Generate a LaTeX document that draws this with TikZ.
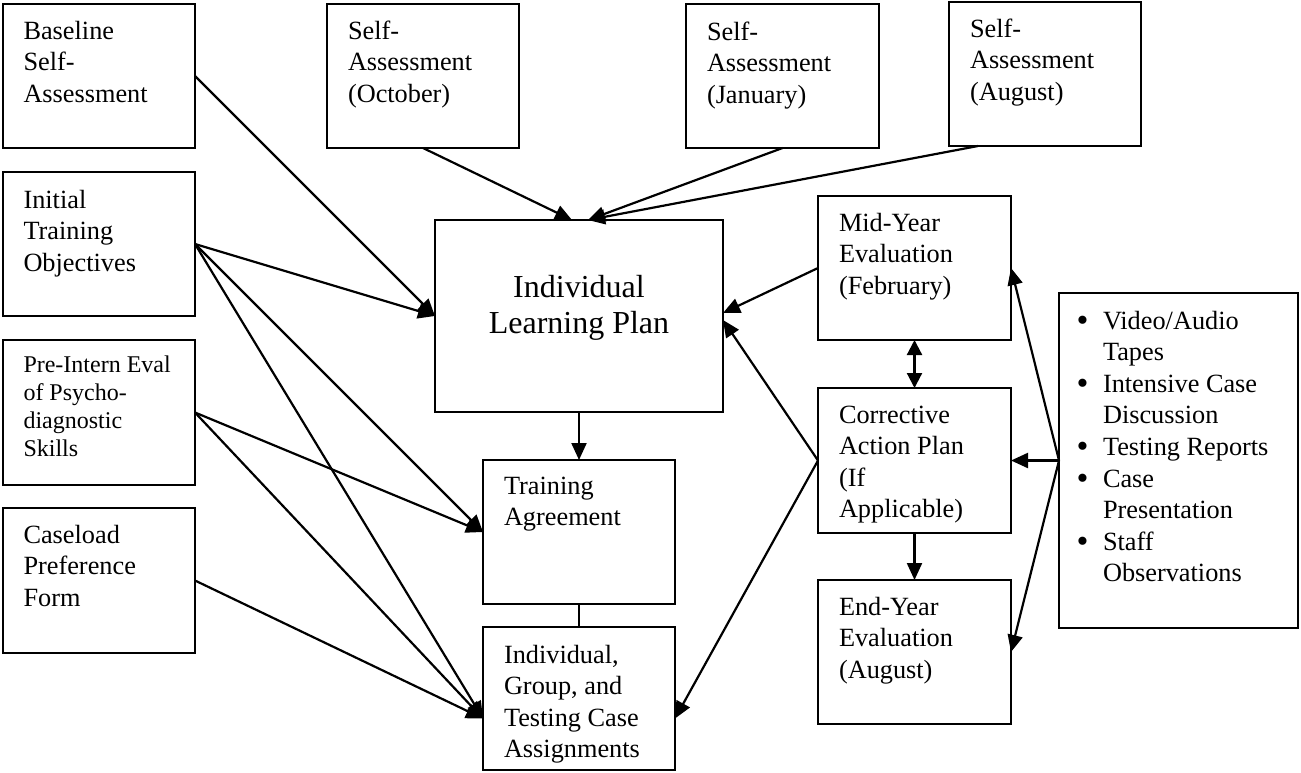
\documentclass[tikz,border=0pt]{standalone}
\usepackage{fontspec}
\setmainfont{Liberation Serif}
\usetikzlibrary{arrows.meta,calc}
\newcommand\fmain{\fontsize{26.3}{31.6}\selectfont}
\newcommand\fsmall{\fontsize{24}{27.7}\selectfont}
\newcommand\fbig{\fontsize{32}{36}\selectfont}
\newcommand\bul{\makebox[26.5pt][l]{\raisebox{-2pt}{\fontsize{34}{34}\selectfont •}}}
\begin{document}
\begin{tikzpicture}[x=1pt,y=-1pt,
  box/.style={draw,line width=2pt,inner sep=0pt,outer sep=0pt,anchor=north west},
  txt/.style={anchor=north west,inner sep=0pt,outer sep=0pt,align=left,font=\fmain},
  arr/.style={line width=2.2pt,-{Triangle[length=17pt,width=15pt]}},
  darr/.style={line width=2.2pt,{Triangle[length=15pt,width=15pt]}-{Triangle[length=15pt,width=15pt]}},
  con/.style={line width=2.2pt}]
\useasboundingbox (0,0) rectangle (1301,772);

% boxes
\node[box,minimum width=192.5pt,minimum height=144pt] (base) at (2.5,4) {};
\node[box,minimum width=192.5pt,minimum height=144pt] (init) at (2.5,172) {};
\node[box,minimum width=192.5pt,minimum height=145pt] (pre) at (2.5,340) {};
\node[box,minimum width=192.5pt,minimum height=145pt] (case) at (2.5,508) {};
\node[box,minimum width=192pt,minimum height=144pt] (oct) at (327,4) {};
\node[box,minimum width=193pt,minimum height=144pt] (jan) at (686,4) {};
\node[box,minimum width=192pt,minimum height=144pt] (aug) at (949,2) {};
\node[box,minimum width=288pt,minimum height=192pt] (ilp) at (435,220) {};
\node[box,minimum width=192pt,minimum height=144pt] (ta) at (483,460) {};
\node[box,minimum width=192pt,minimum height=143pt] (asg) at (483,627) {};
\node[box,minimum width=193pt,minimum height=144pt] (mid) at (818,196) {};
\node[box,minimum width=193pt,minimum height=145pt] (corr) at (818,388) {};
\node[box,minimum width=193pt,minimum height=144pt] (endy) at (818,580) {};
\node[box,minimum width=239pt,minimum height=335pt] (bulbox) at (1059,293) {};

% texts
\node[txt] (tbase) at ($(base.north west)+(21,12.9)$) {\strut Baseline\\Self-\\Assessment};
\node[txt] (tinit) at ($(init.north west)+(21,13.9)$) {\strut Initial\\Training\\Objectives};
\node[txt,font=\fsmall] (tpre) at ($(pre.north west)+(21,13.6)$) {\strut Pre-Intern Eval\\of Psycho-\\diagnostic\\Skills};
\node[txt] (tcase) at ($(case.north west)+(21,12.9)$) {\strut Caseload\\Preference\\Form};
\node[txt] (toct) at ($(oct.north west)+(21,12.9)$) {\strut Self-\\Assessment\\(October)};
\node[txt] (tjan) at ($(jan.north west)+(21,13.9)$) {\strut Self-\\Assessment\\(January)};
\node[txt] (taug) at ($(aug.north west)+(21,12.9)$) {\strut Self-\\Assessment\\(August)};
\node[anchor=north,inner sep=0pt,align=center,font=\fbig] (tilp) at ($(ilp.north)+(0,51.8)$) {\strut Individual\\Learning Plan};
\node[txt] (tta) at ($(ta.north west)+(21,11.9)$) {\strut Training\\Agreement};
\node[txt] (tasg) at ($(asg.north west)+(21,13.9)$) {\strut Individual,\\Group, and\\Testing Case\\Assignments};
\node[txt] (tmid) at ($(mid.north west)+(21,12.9)$) {\strut Mid-Year\\Evaluation\\(February)};
\node[txt] (tcorr) at ($(corr.north west)+(21,12.9)$) {\strut Corrective\\Action Plan\\(If\\Applicable)};
\node[txt] (tend) at ($(endy.north west)+(21,12.9)$) {\strut End-Year\\Evaluation\\(August)};
\node[txt] (tbul) at ($(bulbox.north west)+(17.5,13.9)$) {\strut\bul Video/Audio\\
  \hspace*{26.5pt}Tapes\\
  \bul Intensive Case\\
  \hspace*{26.5pt}Discussion\\
  \bul Testing Reports\\
  \bul Case\\
  \hspace*{26.5pt}Presentation\\
  \bul Staff\\
  \hspace*{26.5pt}Observations};

% helper coordinates on box borders
\coordinate (ilpTL) at ($(ilp.north)+(-7,0)$);
\coordinate (ilpTR) at ($(ilp.north)+(9,0)$);
\coordinate (ilpR1) at ($(ilp.east)+(0,-3)$);
\coordinate (ilpR2) at ($(ilp.east)+(0,4)$);
\coordinate (asgL) at ($(asg.west)+(0,20)$);
\coordinate (asgR) at ($(asg.east)+(0,20)$);
\coordinate (augS) at ($(aug.south west)+(29,0)$);

% connectors
\draw[arr] (base.east) -- (ilp.west);
\draw[arr] (init.east) -- (ilp.west);
\draw[arr] (init.east) -- (ta.west);
\draw[arr] (init.east) -- (asgL);
\draw[arr] (pre.east) -- (ta.west);
\draw[arr] (pre.east) -- (asgL);
\draw[arr] (case.east) -- (asgL);
\draw[arr] (oct.south) -- (ilpTL);
\draw[arr] (jan.south) -- (ilpTR);
\draw[arr] (augS) -- (ilpTR);
\draw[arr] (ilp.south) -- (ta.north);
\draw[con] (ta.south) -- (asg.north);
\draw[arr] (mid.west) -- (ilpR1);
\draw[arr] (corr.west) -- (ilpR2);
\draw[arr] (corr.west) -- (asgR);
\draw[darr] (mid.south) -- (corr.north);
\draw[arr] (corr.south) -- (endy.north);
\draw[arr] (bulbox.west) -- (mid.east);
\draw[arr] (bulbox.west) -- (corr.east);
\draw[arr] (bulbox.west) -- (endy.east);
\end{tikzpicture}
\end{document}
